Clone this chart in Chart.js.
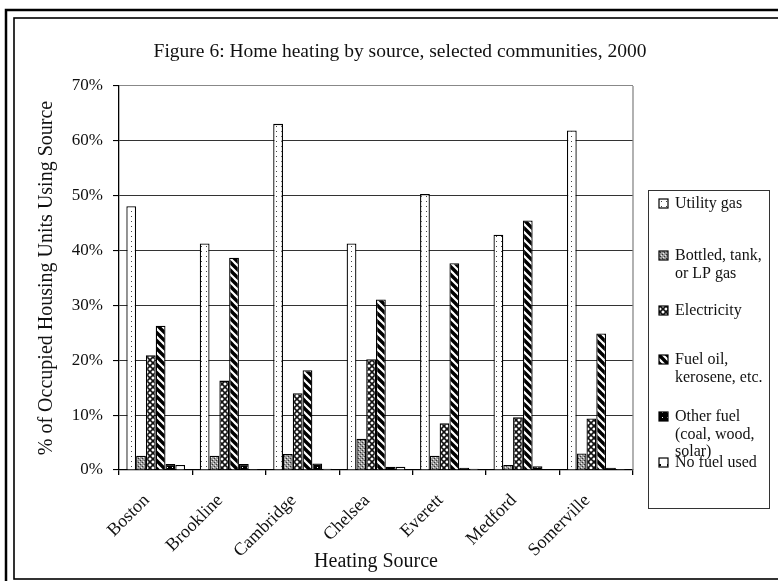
<!DOCTYPE html>
<html lang="en">
<head>
    <meta charset="UTF-8">
    <title>Home heating by source</title>
    <script src="https://cdn.jsdelivr.net/npm/chart.js"></script>
    <style>
        html, body { margin: 0; padding: 0; background: #fff; }
        .chartBox { width: 778px; height: 581px; }
    </style>
</head>
<body>
    <div class="chartBox">
        <canvas id="barChart" width="778" height="581"></canvas>
    </div>
    <script>
        // Data (percent of occupied housing units)
        var communities = ['Boston', 'Brookline', 'Cambridge', 'Chelsea', 'Everett', 'Medford', 'Somerville'];
        var seriesNames = ['Utility gas', 'Bottled, tank,\nor LP gas', 'Electricity', 'Fuel oil,\nkerosene, etc.', 'Other fuel\n(coal, wood,\nsolar)', 'No fuel used'];
        var utilityGas  = [48.1, 41.3, 63.1, 41.3, 50.3, 42.9, 61.9];
        var bottledGas  = [2.6, 2.6, 2.9, 5.7, 2.6, 0.9, 3.0];
        var electricity = [20.9, 16.3, 14.0, 20.2, 8.5, 9.6, 9.4];
        var fuelOil     = [26.3, 38.7, 18.2, 31.1, 37.7, 45.5, 24.9];
        var otherFuel   = [1.1, 1.1, 1.2, 0.6, 0.4, 0.7, 0.4];
        var noFuel      = [0.9, 0.2, 0.25, 0.6, 0.25, 0.1, 0.2];
        var yTicks      = [0, 10, 20, 30, 40, 50, 60, 70];

        var serif = '"Liberation Serif", "Times New Roman", serif';
        var ctx = document.getElementById('barChart').getContext('2d');

        // small tiles used as fill patterns, like the old Excel hatches
        function makePattern(size, draw) {
            var c = document.createElement('canvas');
            c.width = size;
            c.height = size;
            var g = c.getContext('2d');
            draw(g, size);
            return ctx.createPattern(c, 'repeat');
        }

        var dotsFill = makePattern(5, function (g) {
            g.fillStyle = '#fff'; g.fillRect(0, 0, 5, 5);
            g.fillStyle = '#444';
            g.fillRect(1, 1, 1, 1);
        });
        var grayFill = makePattern(4, function (g) {
            g.fillStyle = '#9a9a9a'; g.fillRect(0, 0, 4, 4);
            g.fillStyle = '#333';
            g.fillRect(0, 0, 1, 1); g.fillRect(2, 2, 1, 1);
            g.fillStyle = '#eee';
            g.fillRect(1, 3, 1, 1); g.fillRect(3, 1, 1, 1);
        });
        var meshFill = makePattern(6, function (g) {
            g.fillStyle = '#fff'; g.fillRect(0, 0, 6, 6);
            g.strokeStyle = '#111'; g.lineWidth = 1.6;
            g.beginPath();
            g.moveTo(-1, -1); g.lineTo(7, 7);
            g.moveTo(7, -1); g.lineTo(-1, 7);
            g.stroke();
        });
        var stripeFill = makePattern(8, function (g) {
            g.fillStyle = '#fff'; g.fillRect(0, 0, 8, 8);
            g.strokeStyle = '#000'; g.lineWidth = 3.4;
            g.beginPath();
            [-8, 0, 8].forEach(function (o) {
                g.moveTo(o - 1, -1); g.lineTo(o + 9, 9);
            });
            g.stroke();
        });
        var blackFill = makePattern(5, function (g) {
            g.fillStyle = '#000'; g.fillRect(0, 0, 5, 5);
            g.fillStyle = '#fff'; g.fillRect(2, 2, 1, 1);
        });
        var plainFill = makePattern(8, function (g) {
            g.fillStyle = '#fff'; g.fillRect(0, 0, 8, 8);
            g.fillStyle = '#000'; g.fillRect(3, 0, 2, 2);
        });

        var seriesValues = [utilityGas, bottledGas, electricity, fuelOil, otherFuel, noFuel];
        var seriesFills = [dotsFill, grayFill, meshFill, stripeFill, blackFill, plainFill];

        var datasets = seriesValues.map(function (vals, i) {
            return {
                label: seriesNames[i].replace(/\n/g, ' '),
                data: vals,
                backgroundColor: seriesFills[i],
                borderColor: '#000',
                borderWidth: 1.3,
                barPercentage: 1.0,
                categoryPercentage: 0.8
            };
        });

        // frame, title and legend box are drawn here
        var decorations = {
            id: 'decorations',
            beforeDraw: function (chart) {
                var c = chart.ctx;
                c.save();
                c.fillStyle = '#fff';
                c.fillRect(0, 0, chart.width, chart.height);
                c.strokeStyle = '#000';
                c.lineWidth = 2.5;
                c.strokeRect(6, 10, 790, 590);
                c.lineWidth = 1.6;
                c.strokeRect(14, 18, 780, 561);
                c.restore();
            },
            afterDraw: function (chart) {
                var c = chart.ctx;
                var area = chart.chartArea;
                c.save();
                // right side of plot area
                c.strokeStyle = '#888';
                c.lineWidth = 1.3;
                c.beginPath();
                c.moveTo(area.right, area.top);
                c.lineTo(area.right, area.bottom);
                c.stroke();

                c.fillStyle = '#111';
                c.font = '19.5px ' + serif;
                c.textAlign = 'center';
                c.textBaseline = 'middle';
                c.fillText('Figure 6: Home heating by source, selected communities, 2000', 400, 52);

                // legend
                c.strokeStyle = '#333';
                c.lineWidth = 1;
                c.strokeRect(648.5, 190.5, 121, 318);
                var rowY = [204, 256, 311, 360, 417, 463];
                c.font = '16px ' + serif;
                c.textAlign = 'left';
                chart.data.datasets.forEach(function (ds, i) {
                    var y = rowY[i];
                    c.fillStyle = ds.backgroundColor;
                    c.fillRect(659, y - 5, 9, 9);
                    c.strokeStyle = '#000';
                    c.lineWidth = 1.2;
                    c.strokeRect(659, y - 5, 9, 9);
                    c.fillStyle = '#111';
                    seriesNames[i].split('\n').forEach(function (line, k) {
                        c.fillText(line, 675, y + k * 17.5);
                    });
                });
                c.restore();
            }
        };

        var chart = new Chart(ctx, {
            type: 'bar',
            data: {
                labels: communities,
                datasets: datasets
            },
            options: {
                responsive: false,
                animation: false,
                devicePixelRatio: 1,
                layout: {
                    padding: { left: 14, right: 145, top: 86, bottom: 0 }
                },
                plugins: {
                    legend: { display: false },
                    title: { display: false },
                    tooltip: { enabled: false }
                },
                scales: {
                    x: {
                        grid: {
                            offset: true,
                            drawOnChartArea: false,
                            drawTicks: true,
                            tickLength: 5,
                            color: '#000',
                            lineWidth: 1.3
                        },
                        border: { color: '#000', width: 1.3 },
                        ticks: {
                            color: '#111',
                            font: { family: serif, size: 18 },
                            minRotation: 45,
                            maxRotation: 45,
                            padding: 15,
                            labelOffset: -9
                        },
                        title: {
                            display: true,
                            text: 'Heating Source',
                            color: '#111',
                            font: { family: serif, size: 20 },
                            padding: { top: 0, bottom: 7 }
                        },
                        afterFit: function (scale) { scale.height = 111; }
                    },
                    y: {
                        min: 0,
                        max: 70,
                        afterBuildTicks: function (scale) {
                            scale.ticks = yTicks.map(function (v) { return { value: v }; });
                        },
                        grid: {
                            color: function (c) { return c.tick && c.tick.value === 70 ? '#888' : '#333'; },
                            lineWidth: 1.1,
                            tickLength: 6,
                            tickColor: '#000'
                        },
                        border: { color: '#000', width: 1.3 },
                        ticks: {
                            color: '#111',
                            font: { family: serif, size: 17 },
                            padding: 10,
                            callback: function (v) { return v + '%'; }
                        },
                        title: {
                            display: true,
                            text: '% of Occupied Housing Units Using Source',
                            color: '#111',
                            font: { family: serif, size: 20 },
                            padding: { top: 21, bottom: 0 }
                        },
                        afterFit: function (scale) { scale.width = 105; }
                    }
                }
            },
            plugins: [decorations]
        });
    </script>
</body>
</html>
